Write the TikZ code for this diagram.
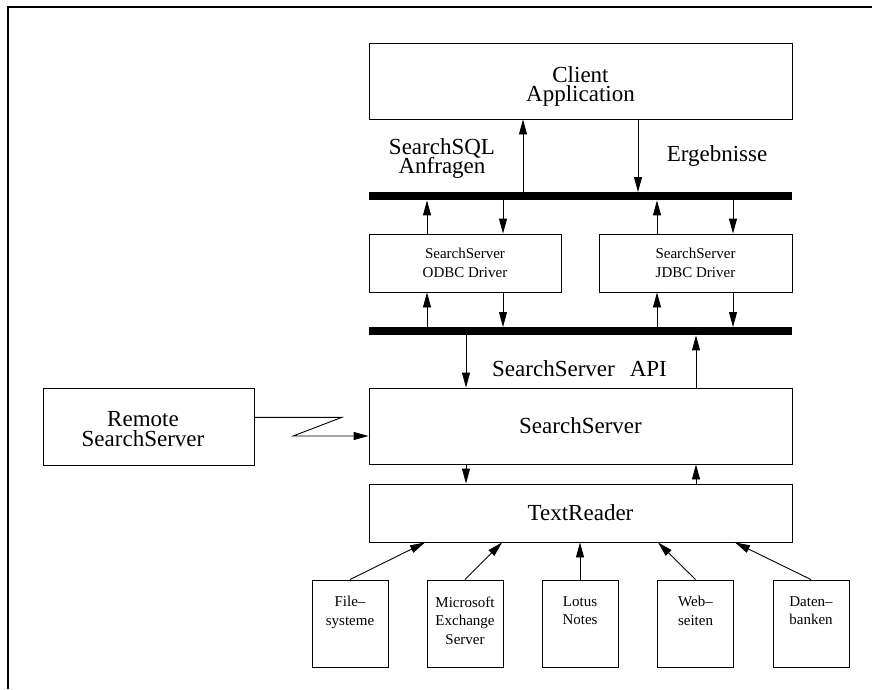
\documentclass[tikz,border=0pt]{standalone}
\usepackage{fontspec}
\setmainfont{Liberation Serif}
\usetikzlibrary{arrows.meta}
\begin{document}
\begin{tikzpicture}[x=1pt,y=-1pt,
  box/.style={draw, line width=0.9pt, inner sep=0pt, rectangle},
  big/.style={font={\fontsize{23}{19.5}\selectfont\lineskiplimit=-30pt}, align=center, inner sep=0pt},
  small/.style={font={\fontsize{15}{18.3}\selectfont\lineskiplimit=-30pt}, align=center, inner sep=0pt},
  bus/.style={fill=black, inner sep=0pt, minimum width=423pt, minimum height=8pt},
  arr/.style={line width=0.9pt, -{Triangle[length=15pt,width=8pt]}},
  srcbox/.style={box, minimum width=76pt, minimum height=87pt, font={\fontsize{15}{18.5}\selectfont}},
]
\useasboundingbox (0,0) rectangle (872,689);
\draw[line width=2pt, line join=miter] (8.3,689) -- (8.3,6.8) -- (872,6.8);

% boxes
\node[box, minimum width=423pt, minimum height=76pt] (client) at (580.5,81) {};
\node[big] (clientlbl) at (580.5,86.4) {Client\\Application};
\node[bus] (bus1) at (580.5,196.2) {};
\node[box, small, minimum width=192pt, minimum height=58pt] (odbc) at (465,263) {SearchServer\\ODBC Driver};
\node[box, small, minimum width=193pt, minimum height=58pt] (jdbc) at (695.5,263) {SearchServer\\JDBC Driver};
\node[bus] (bus2) at (580.5,331.2) {};
\node[box, big, minimum width=423pt, minimum height=76pt] (ss) at (580.5,426) {SearchServer};
\node[box, big, minimum width=423pt, minimum height=58pt] (tr) at (580.5,513) {TextReader};
\node[box, minimum width=211pt, minimum height=77pt] (remote) at (148.5,426.5) {};
\node[big] (remotelbl) at (143,428.9) {Remote\\SearchServer};

% free labels
\node[big] (sqllbl) at (442,158.4) {SearchSQL\\Anfragen};
\node[big] (erglbl) at (717,156) {Ergebnisse};
\node[big] (apilbl) at (579.5,369) {SearchServer\hspace{15pt}API};

% source boxes
\node[srcbox] (b1) at (350,623.5) {\parbox[c][54pt][t]{74pt}{\centering File–\\systeme}};
\node[srcbox] (b2) at (465,623.5) {\parbox[c][54pt][t]{74pt}{\centering Microsoft\\Exchange\\Server}};
\node[srcbox] (b3) at (580,623.5) {\parbox[c][54pt][t]{74pt}{\centering Lotus\\Notes}};
\node[srcbox] (b4) at (695.5,623.5) {\parbox[c][54pt][t]{74pt}{\centering Web–\\seiten}};
\node[srcbox] (b5) at (811,623.5) {\parbox[c][54pt][t]{74pt}{\centering Daten–\\banken}};

% x positions of vertical arrows
\coordinate (c523) at (523,0);
\coordinate (c638) at (638,0);
\coordinate (c427) at (427,0);
\coordinate (c503) at (503,0);
\coordinate (c657) at (657,0);
\coordinate (c733) at (733,0);
\coordinate (c466) at (466,0);
\coordinate (c696) at (696,0);
\coordinate (t1) at (425,0);
\coordinate (t2) at (502,0);
\coordinate (t3) at (580,0);
\coordinate (t4) at (658,0);
\coordinate (t5) at (735,0);

\draw[arr] (bus1.north -| c523) -- (client.south -| c523);
\draw[arr] (client.south -| c638) -- (bus1.north -| c638);
\draw[arr] (odbc.north -| c427) -- (bus1.south -| c427);
\draw[arr] (bus1.south -| c503) -- (odbc.north -| c503);
\draw[arr] (jdbc.north -| c657) -- (bus1.south -| c657);
\draw[arr] (bus1.south -| c733) -- (jdbc.north -| c733);
\draw[arr] (bus2.north -| c427) -- (odbc.south -| c427);
\draw[arr] (odbc.south -| c503) -- (bus2.north -| c503);
\draw[arr] (bus2.north -| c657) -- (jdbc.south -| c657);
\draw[arr] (jdbc.south -| c733) -- (bus2.north -| c733);
\draw[arr] (bus2.south -| c466) -- (ss.north -| c466);
\draw[arr] (ss.north -| c696) -- (bus2.south -| c696);
\draw[arr] (ss.south -| c466) -- (tr.north -| c466);
\draw[arr] (tr.north -| c696) -- (ss.south -| c696);

\draw[arr] (b1.north) -- (tr.south -| t1);
\draw[arr] (b2.north) -- (tr.south -| t2);
\draw[arr] (b3.north) -- (tr.south -| t3);
\draw[arr] (b4.north) -- (tr.south -| t4);
\draw[arr] (b5.north) -- (tr.south -| t5);

% remote link
\coordinate (z1) at (342,417.3);
\coordinate (z2) at (293,436);
\draw[arr] (remote.east |- z1) -- (z1) -- (z2) -- (ss.west |- z2);
\end{tikzpicture}
\end{document}
